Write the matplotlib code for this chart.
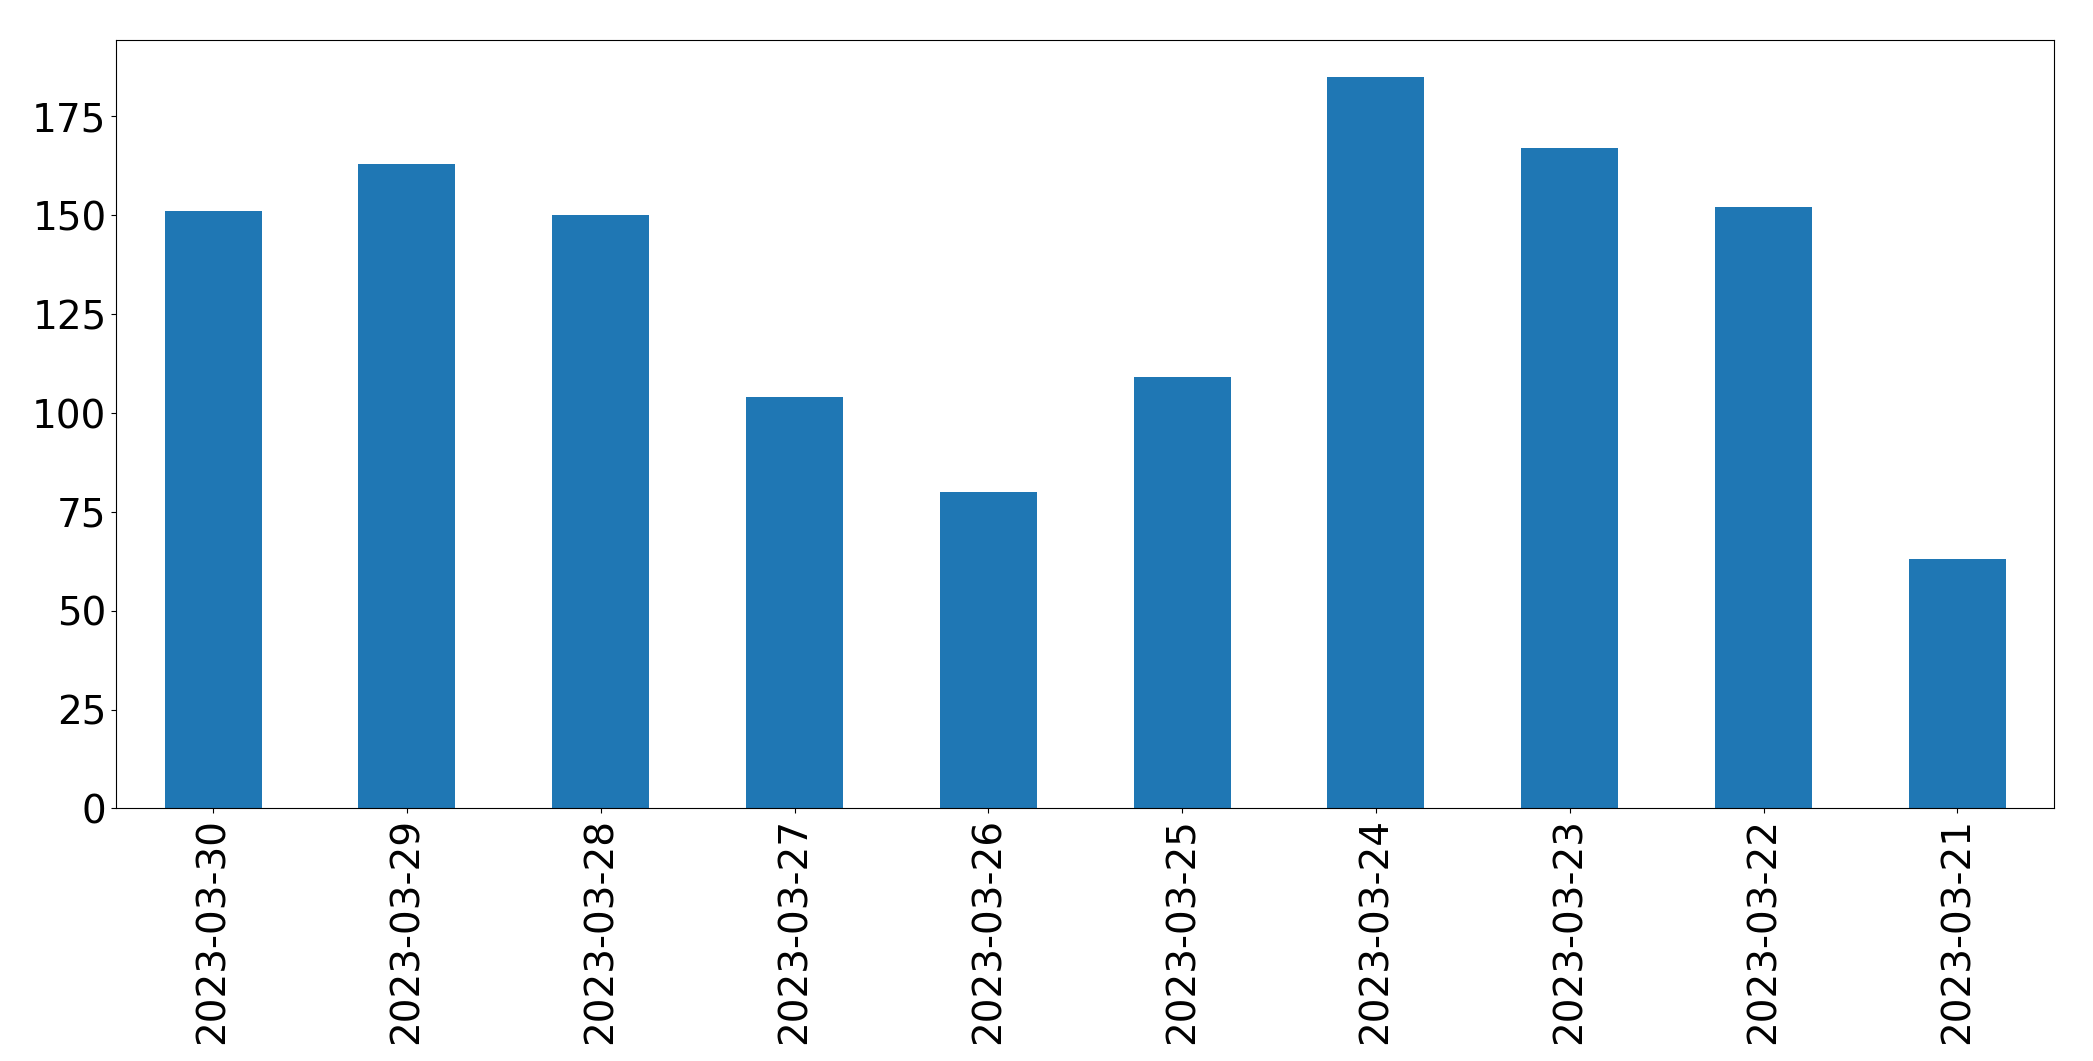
import matplotlib
matplotlib.use('Agg')
import matplotlib.pyplot as plt
import pandas as pd

dates = ['2023-03-30', '2023-03-29', '2023-03-28', '2023-03-27', '2023-03-26',
         '2023-03-25', '2023-03-24', '2023-03-23', '2023-03-22', '2023-03-21']
counts = [151, 163, 150, 104, 80, 109, 185, 167, 152, 63]

s = pd.Series(counts, index=dates)

fig = plt.figure(figsize=(20.93, 10.61), dpi=100)
ax = fig.add_axes([0.0555, 0.238, 0.926, 0.724])
s.plot.bar(ax=ax, color='#1f77b4', width=0.5)
ax.tick_params(labelsize=28)
ax.set_yticks(range(0, 176, 25))
fig.savefig('out.png', dpi=100)
